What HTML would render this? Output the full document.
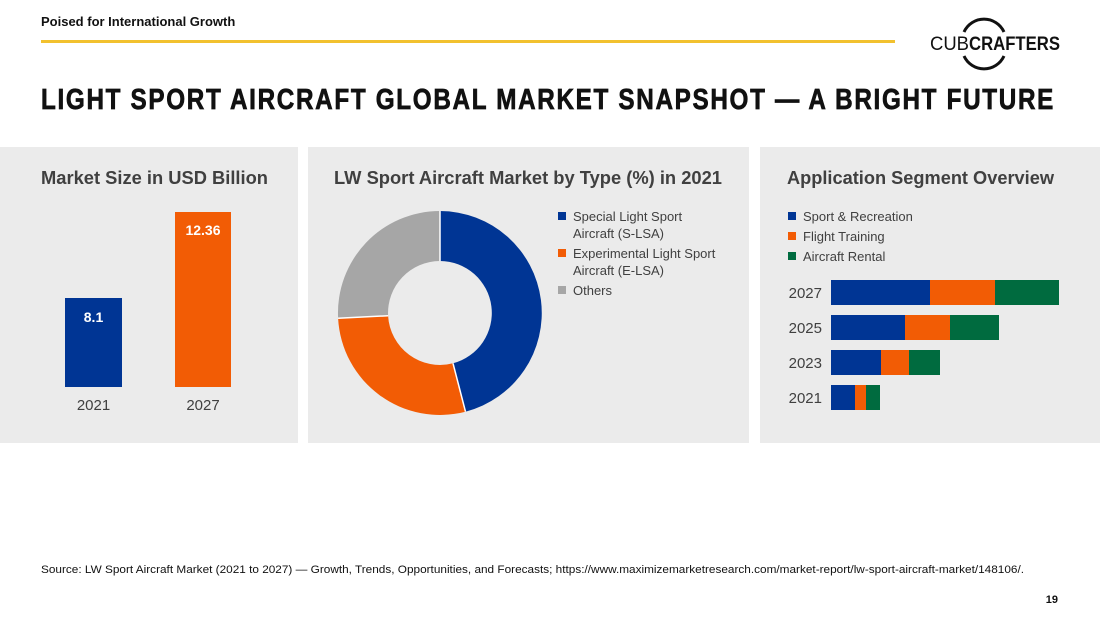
<!DOCTYPE html>
<html><head><meta charset="utf-8"><style>
html,body{margin:0;padding:0;background:#fff;}
svg{display:block;font-family:"Liberation Sans",Arial,sans-serif;}
</style></head><body>
<svg width="1100" height="619" viewBox="0 0 1100 619" xmlns="http://www.w3.org/2000/svg">
<rect width="1100" height="619" fill="#fff"/>
<text x="41" y="26" font-size="13" font-weight="bold" fill="#111">Poised for International Growth</text>
<rect x="41" y="40" width="854" height="3" fill="#f2c12e"/>
<!-- logo -->
<path d="M964 32 A22 22 0 0 1 1004 32" fill="none" stroke="#111" stroke-width="3"/>
<path d="M964 56 A22 22 0 0 0 1004 56" fill="none" stroke="#111" stroke-width="3"/>
<text x="930" y="50" font-size="19" fill="#111" textLength="39" lengthAdjust="spacingAndGlyphs">CUB</text>
<text x="969" y="50" font-size="19" font-weight="bold" fill="#111" textLength="91" lengthAdjust="spacingAndGlyphs">CRAFTERS</text>
<text x="41" y="109" font-size="29" font-weight="bold" fill="#111" stroke="#111" stroke-width="0.7" textLength="1014" lengthAdjust="spacingAndGlyphs" letter-spacing="2">LIGHT SPORT AIRCRAFT GLOBAL MARKET SNAPSHOT — A BRIGHT FUTURE</text>
<!-- panels -->
<rect x="0" y="147" width="298" height="296" fill="#ebebeb"/>
<rect x="308" y="147" width="441" height="296" fill="#ebebeb"/>
<rect x="760" y="147" width="340" height="296" fill="#ebebeb"/>
<!-- panel 1 -->
<text x="41" y="184" font-size="18" font-weight="bold" fill="#404040" textLength="227" lengthAdjust="spacingAndGlyphs">Market Size in USD Billion</text>
<rect x="65" y="298" width="57" height="89" fill="#003594"/>
<rect x="175" y="212" width="56" height="175" fill="#f25c05"/>
<text x="93.5" y="322" font-size="14" font-weight="bold" fill="#fff" text-anchor="middle">8.1</text>
<text x="203" y="235" font-size="14" font-weight="bold" fill="#fff" text-anchor="middle">12.36</text>
<text x="93.5" y="410" font-size="15" fill="#404040" text-anchor="middle">2021</text>
<text x="203" y="410" font-size="15" fill="#404040" text-anchor="middle">2027</text>
<!-- panel 2 -->
<text x="334" y="184" font-size="18" font-weight="bold" fill="#404040" textLength="388" lengthAdjust="spacingAndGlyphs">LW Sport Aircraft Market by Type (%) in 2021</text>
<path d="M440 211 A102 102 0 0 1 465.5 411.7 L453 363.3 A52 52 0 0 0 440 261 Z" fill="#003594"/>
<path d="M465.5 411.7 A102 102 0 0 1 338.1 318.3 L388.1 315.7 A52 52 0 0 0 453 363.3 Z" fill="#f25c05"/>
<path d="M338.1 318.3 A102 102 0 0 1 440 211 L440 261 A52 52 0 0 0 388.1 315.7 Z" fill="#a6a6a6"/>
<line x1="440" y1="211" x2="440" y2="261" stroke="#fff" stroke-width="1.5"/>
<line x1="465.5" y1="411.7" x2="453" y2="363.3" stroke="#fff" stroke-width="1.5"/>
<line x1="338.1" y1="318.3" x2="388.1" y2="315.7" stroke="#fff" stroke-width="1.5"/>
<g font-size="13" fill="#404040">
<rect x="558" y="212" width="8" height="8" fill="#003594"/>
<text x="573" y="221">Special Light Sport</text><text x="573" y="238">Aircraft (S-LSA)</text>
<rect x="558" y="249" width="8" height="8" fill="#f25c05"/>
<text x="573" y="258">Experimental Light Sport</text><text x="573" y="275">Aircraft (E-LSA)</text>
<rect x="558" y="286" width="8" height="8" fill="#a6a6a6"/>
<text x="573" y="295">Others</text>
</g>
<!-- panel 3 -->
<text x="787" y="184" font-size="18" font-weight="bold" fill="#404040" textLength="267" lengthAdjust="spacingAndGlyphs">Application Segment Overview</text>
<g font-size="13" fill="#404040">
<rect x="788" y="212" width="8" height="8" fill="#003594"/><text x="803" y="221">Sport &amp; Recreation</text>
<rect x="788" y="232" width="8" height="8" fill="#f25c05"/><text x="803" y="241">Flight Training</text>
<rect x="788" y="252" width="8" height="8" fill="#006b3f"/><text x="803" y="261">Aircraft Rental</text>
</g>
<g font-size="15" fill="#404040" text-anchor="end">
<text x="822" y="298">2027</text><text x="822" y="333">2025</text><text x="822" y="368">2023</text><text x="822" y="403">2021</text>
</g>
<rect x="831" y="280" width="99" height="25" fill="#003594"/><rect x="930" y="280" width="65" height="25" fill="#f25c05"/><rect x="995" y="280" width="64" height="25" fill="#006b3f"/>
<rect x="831" y="315" width="74" height="25" fill="#003594"/><rect x="905" y="315" width="45" height="25" fill="#f25c05"/><rect x="950" y="315" width="49" height="25" fill="#006b3f"/>
<rect x="831" y="350" width="50" height="25" fill="#003594"/><rect x="881" y="350" width="28" height="25" fill="#f25c05"/><rect x="909" y="350" width="31" height="25" fill="#006b3f"/>
<rect x="831" y="385" width="24" height="25" fill="#003594"/><rect x="855" y="385" width="11" height="25" fill="#f25c05"/><rect x="866" y="385" width="14" height="25" fill="#006b3f"/>
<text x="41" y="573" font-size="11" fill="#111" textLength="983" lengthAdjust="spacingAndGlyphs">Source: LW Sport Aircraft Market (2021 to 2027) — Growth, Trends, Opportunities, and Forecasts; https://www.maximizemarketresearch.com/market-report/lw-sport-aircraft-market/148106/.</text>
<text x="1058" y="603" font-size="11" font-weight="bold" fill="#111" text-anchor="end">19</text>
</svg>
</body></html>
